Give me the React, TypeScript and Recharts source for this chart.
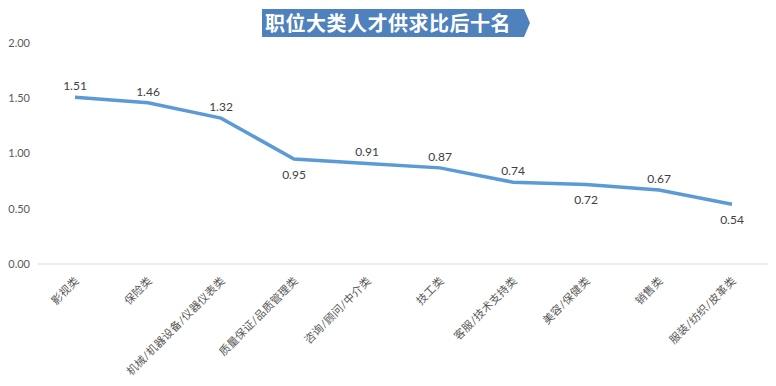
import React from 'react';
import { LineChart, Line, XAxis, YAxis, LabelList } from 'recharts';

const categories = [
  '影视类',
  '保险类',
  '机械/机器设备/仪器仪表类',
  '质量保证/品质管理类',
  '咨询/顾问/中介类',
  '技工类',
  '客服/技术支持类',
  '美容/保健类',
  '销售类',
  '服装/纺织/皮革类',
];
const ratios = [1.51, 1.46, 1.32, 0.95, 0.91, 0.87, 0.74, 0.72, 0.67, 0.54];
const yTicks = [0, 0.5, 1, 1.5, 2];
const title = '职位大类人才供求比后十名';

// label sits below the line for these points
const labelBelow = [false, false, false, true, false, false, false, true, false, true];

const data = categories.map((name, i) => ({ name, ratio: ratios[i] }));

const FONT = "Lato, 'Noto Sans CJK SC', sans-serif";

const XTick = (props: any) => {
  const { x, y, payload } = props;
  return (
    <g transform={`translate(${x - 1},${y + 4})`}>
      <text
        x={0}
        y={0}
        dy={8}
        textAnchor="end"
        transform="rotate(-45)"
        fill="#595959"
        fontSize={11}
        fontFamily={FONT}
        letterSpacing={0.2}
      >
        {payload.value}
      </text>
    </g>
  );
};

const PointLabel = (props: any) => {
  const { x, y, value, index } = props;
  const below = labelBelow[index];
  return (
    <text
      x={x}
      y={below ? y + 20 : y - 7}
      textAnchor="middle"
      fill="#404040"
      fontSize={12}
      fontFamily={FONT}
    >
      {Number(value).toFixed(2)}
    </text>
  );
};

export default function App() {
  return (
    <div style={{ position: 'absolute', left: 0, top: 0, width: 776, height: 386, background: '#fff' }}>
      <div
        style={{
          position: 'absolute',
          left: 262,
          top: 9,
          width: 268,
          height: 28,
          background: '#4f81bd',
          clipPath: 'polygon(0 0, 262px 0, 268px 50%, 262px 100%, 0 100%)',
          color: '#fff',
          fontFamily: "'Noto Sans CJK SC', sans-serif",
          fontWeight: 700,
          fontSize: 20,
          lineHeight: '28px',
          paddingLeft: 3,
          boxSizing: 'border-box',
          letterSpacing: 0.5,
        }}
      >
        {title}
      </div>
      <LineChart
        width={776}
        height={386}
        data={data}
        margin={{ top: 43, right: 8, bottom: 12, left: 0 }}
      >
        <XAxis
          dataKey="name"
          interval={0}
          height={110}
          padding={{ left: 37, right: 36 }}
          tick={<XTick />}
          tickLine={false}
          axisLine={{ stroke: '#d9d9d9' }}
        />
        <YAxis
          width={38}
          domain={[0, 2]}
          ticks={yTicks}
          tickFormatter={(v: number) => v.toFixed(2)}
          axisLine={false}
          tickLine={false}
          tick={{ fill: '#595959', fontSize: 11, fontFamily: FONT }}
        />
        <Line
          type="linear"
          dataKey="ratio"
          stroke="#5b9bd5"
          strokeWidth={3.5}
          dot={false}
          isAnimationActive={false}
        >
          <LabelList dataKey="ratio" content={<PointLabel />} />
        </Line>
      </LineChart>
    </div>
  );
}
